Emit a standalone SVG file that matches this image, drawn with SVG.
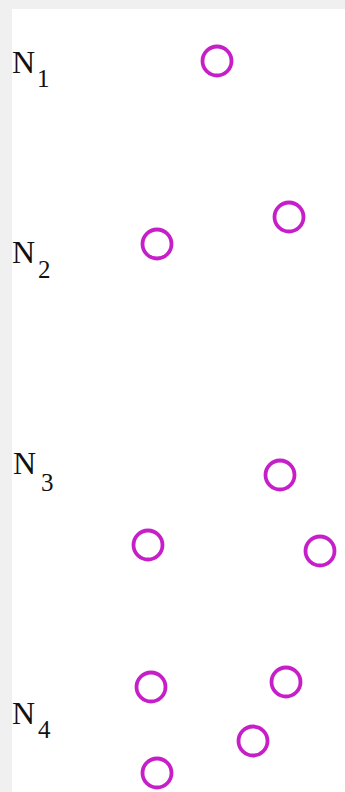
<svg xmlns="http://www.w3.org/2000/svg" width="345" height="792" viewBox="0 0 345 792">
<style>
.n{fill:none;stroke:#c61fc9;stroke-width:3.8}
.lb{font-family:"Liberation Serif","Times New Roman",serif;fill:#111111;font-size:32px}
.sb{font-family:"Liberation Serif","Times New Roman",serif;fill:#111111;font-size:25px}
</style>
<rect width="345" height="792" fill="#ffffff"/>
<rect x="0" y="0" width="345" height="9" fill="#f0f0f0"/>
<rect x="0" y="0" width="12" height="792" fill="#f0f0f0"/>
<g id="label-N1"><text class="lb" x="12" y="73">N</text><text class="sb" x="37" y="87">1</text></g>
<g id="label-N2"><text class="lb" x="12" y="263">N</text><text class="sb" x="38" y="278">2</text></g>
<g id="label-N3"><text class="lb" x="13" y="474">N</text><text class="sb" x="41" y="491">3</text></g>
<g id="label-N4"><text class="lb" x="12" y="724">N</text><text class="sb" x="38" y="738">4</text></g>
<g id="N1-a"><circle class="n" cx="217" cy="61" r="14.5"/></g>
<g id="N2-a"><circle class="n" cx="157" cy="244" r="14.5"/></g>
<g id="N2-b"><circle class="n" cx="289" cy="217" r="14.5"/></g>
<g id="N3-a"><circle class="n" cx="280" cy="475" r="14.5"/></g>
<g id="N3-b"><circle class="n" cx="148" cy="545" r="14.5"/></g>
<g id="N3-c"><circle class="n" cx="320" cy="551" r="14.5"/></g>
<g id="N4-a"><circle class="n" cx="151" cy="687" r="14.5"/></g>
<g id="N4-b"><circle class="n" cx="286" cy="682" r="14.5"/></g>
<g id="N4-c"><circle class="n" cx="253" cy="741" r="14.5"/></g>
<g id="N4-d"><circle class="n" cx="157" cy="773" r="14.5"/></g>
</svg>
